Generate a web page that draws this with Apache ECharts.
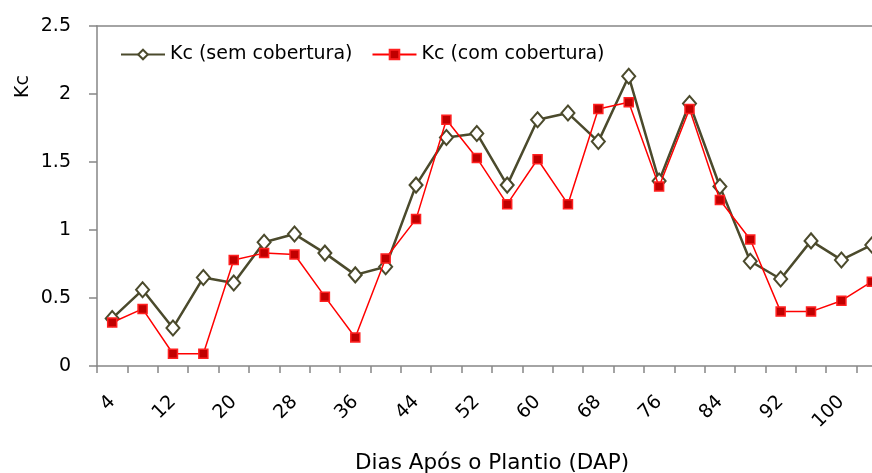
<!DOCTYPE html>
<html>
<head>
<meta charset="utf-8">
<script src="https://cdn.jsdelivr.net/npm/echarts@6/dist/echarts.min.js"></script>
<style>
html,body{margin:0;padding:0;overflow:hidden;background:#fff;}
#c{width:900px;height:473px;}
</style>
</head>
<body>
<div id="c"></div>
<script>
const categories = ['4','8','12','16','20','24','28','32','36','40','44','48','52','56','60','64','68','72','76','80','84','88','92','96','100','104'];
const kcSem = [0.35,0.56,0.28,0.65,0.61,0.91,0.97,0.83,0.67,0.73,1.33,1.68,1.71,1.33,1.81,1.86,1.65,2.13,1.36,1.93,1.32,0.77,0.64,0.92,0.78,0.89];
const kcCom = [0.32,0.42,0.09,0.09,0.78,0.83,0.82,0.51,0.21,0.79,1.08,1.81,1.53,1.19,1.52,1.19,1.89,1.94,1.32,1.89,1.22,0.93,0.40,0.40,0.48,0.62];
const yTicks = {min:0, max:2.5, interval:0.5};

const font = 'DejaVu Sans';
const chart = echarts.init(document.getElementById('c'), null, {renderer:'canvas'});
chart.setOption({
  animation:false,
  backgroundColor:'#fff',
  textStyle:{fontFamily:font},
  grid:{left:97, top:26, right:13, bottom:107, containLabel:false, outerBoundsMode:'none'},
  legend:{
    left:115, top:40, itemGap:19, itemWidth:44, itemHeight:12,
    textStyle:{fontFamily:font, fontSize:19, color:'#000'},
    data:['Kc (sem cobertura)','Kc (com cobertura)']
  },
  xAxis:[{
    type:'category', data:categories, boundaryGap:true,
    name:'Dias Após o Plantio (DAP)', nameLocation:'middle', nameGap:86,
    nameTextStyle:{fontFamily:font, fontSize:21.5, color:'#000'},
    axisLine:{lineStyle:{color:'#868686', width:1.5}},
    axisTick:{show:true, alignWithLabel:false, interval:0, length:7, lineStyle:{color:'#868686', width:1.5}},
    axisLabel:{interval:1, rotate:45, fontSize:19, color:'#000', margin:33, fontFamily:font},
    splitLine:{show:false}
  },{
    type:'category', data:categories, position:'top',
    axisLine:{show:true, lineStyle:{color:'#868686', width:1.5}},
    axisTick:{show:false}, axisLabel:{show:false}
  }],
  yAxis:{
    type:'value', min:yTicks.min, max:yTicks.max, interval:yTicks.interval,
    axisLine:{show:true, lineStyle:{color:'#868686', width:1.5}},
    axisTick:{show:true, length:8, lineStyle:{color:'#868686', width:1.5}},
    axisLabel:{fontSize:19, color:'#000', margin:26, fontFamily:font},
    splitLine:{show:false}
  },
  graphic:[{
    type:'text', left:14, top:75, rotation:Math.PI/2,
    style:{text:'Kc', fontFamily:font, fontSize:19, fill:'#000'}
  }],
  series:[{
    name:'Kc (sem cobertura)', type:'line', data:kcSem,
    symbol:'diamond', symbolSize:[13,15],
    lineStyle:{color:'#4b4a2c', width:2.5},
    itemStyle:{color:'#fff', borderColor:'#4b4a2c', borderWidth:2},
    z:2
  },{
    name:'Kc (com cobertura)', type:'line', data:kcCom,
    symbol:'rect', symbolSize:9,
    lineStyle:{color:'#ff0000', width:1.5},
    itemStyle:{color:'#c00000', borderColor:'#ff2020', borderWidth:1.5},
    z:3
  }]
});
</script>
</body>
</html>
